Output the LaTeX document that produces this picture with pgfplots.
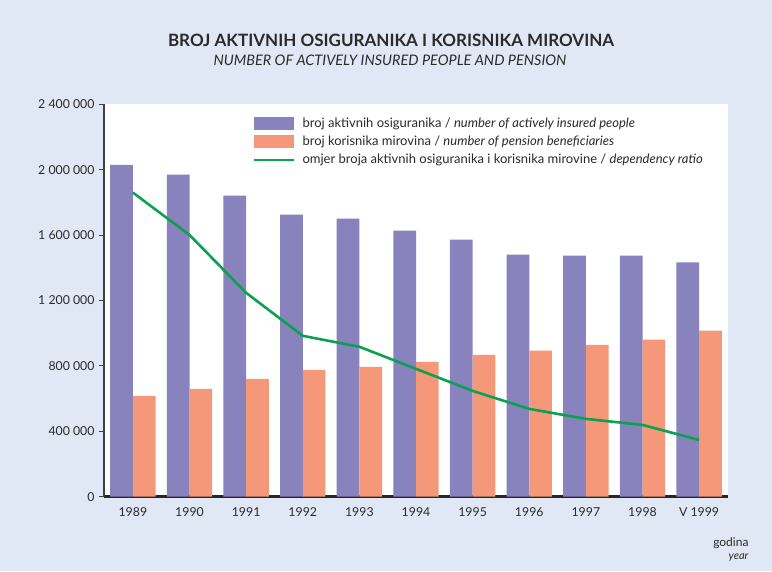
\documentclass[border=0pt]{standalone}
\usepackage{pgfplots}
\pgfplotsset{compat=1.18}
\usepackage{fontspec}
\setmainfont{Lato}
\definecolor{bg}{HTML}{E1E8F5}
\definecolor{barblue}{HTML}{8882BD}
\definecolor{barorange}{HTML}{F5987A}
\definecolor{linegreen}{HTML}{0AA24F}
\definecolor{txt}{HTML}{2A2A2A}
\begin{document}
\begin{tikzpicture}[x=1pt,y=1pt]
\fill[bg] (0,0) rectangle (772,571);
\node[font=\fontsize{17}{19}\selectfont\bfseries, text=txt] at (391,531) {BROJ AKTIVNIH OSIGURANIKA I KORISNIKA MIROVINA};
\node[font=\fontsize{14.5}{16}\selectfont\itshape, text=txt] at (390,511) {NUMBER OF ACTIVELY INSURED PEOPLE AND PENSION};
\node[font=\fontsize{12}{13}\selectfont, text=txt, anchor=east] at (752,28) {godina};
\node[font=\fontsize{11}{12}\selectfont\itshape, text=txt, anchor=east] at (752,13) {year};
\begin{axis}[
  at={(104pt,74.3pt)}, anchor=south west,
  scale only axis, width=624pt, height=392.4pt,
  xmin=-0.51, xmax=10.51, ymin=0, ymax=2400000,
  axis background/.style={fill=white},
  axis x line=bottom, axis y line=left,
  axis line style={-},
  x axis line style={line width=2.6pt, draw=black!85},
  y axis line style={line width=2.2pt, draw=black!75},
  xtick={0,...,10},
  xticklabels={1989,1990,1991,1992,1993,1994,1995,1996,1997,1998,V 1999},
  ytick={0,400000,800000,1200000,1600000,2000000,2400000},
  yticklabels={0,400 000,800 000,1 200 000,1 600 000,2 000 000,2 400 000},
  scaled y ticks=false,
  x tick style={draw=none},
  y tick style={line width=0.8pt, draw=black!75},
  tick align=outside, major tick length=5pt,
  ticklabel style={font=\fontsize{12.3}{13}\selectfont, text=txt},
  xticklabel style={yshift=-2pt},
  yticklabel style={xshift=-1pt},
  clip=false,
  legend style={at={(0.239,0.97)}, anchor=north west, draw=none, fill=none,
    font=\fontsize{13}{14}\selectfont, text=txt, row sep=3pt,
    inner sep=0pt},
  legend cell align=left,
]
\addplot[ybar, bar width=0.4, bar shift=-0.2, fill=barblue, draw=none,
  legend image code/.code={\fill[barblue] (0pt,-6pt) rectangle (40pt,6.5pt); \path (45pt,0pt);}]
  coordinates {(0,2029000) (1,1970000) (2,1841000) (3,1725000) (4,1701000) (5,1628000) (6,1572000) (7,1480000) (8,1474000) (9,1474000) (10,1433000)};
\addlegendentry{broj aktivnih osiguranika / \textit{number of actively insured people}}
\addplot[ybar, bar width=0.4, bar shift=0.2, fill=barorange, draw=none,
  legend image code/.code={\fill[barorange] (0pt,-6pt) rectangle (40pt,6.5pt); \path (45pt,0pt);}]
  coordinates {(0,617000) (1,659000) (2,721000) (3,776000) (4,794000) (5,825000) (6,868000) (7,893000) (8,929000) (9,960000) (10,1015000)};
\addlegendentry{broj korisnika mirovina / \textit{number of pension beneficiaries}}
\addplot[linegreen, line width=2.6pt, line join=round,
  legend image code/.code={\draw[linegreen, line width=1.8pt] (0pt,0pt) -- (40pt,0pt); \path (45pt,0pt);}]
  coordinates {(0,1860000) (1,1601000) (2,1247000) (3,984000) (4,917000) (5,782000) (6,647000) (7,537000) (8,476000) (9,439000) (10,347000)};
\addlegendentry{omjer broja aktivnih osiguranika i korisnika mirovine / \textit{dependency ratio}}
\end{axis}
\end{tikzpicture}
\end{document}
